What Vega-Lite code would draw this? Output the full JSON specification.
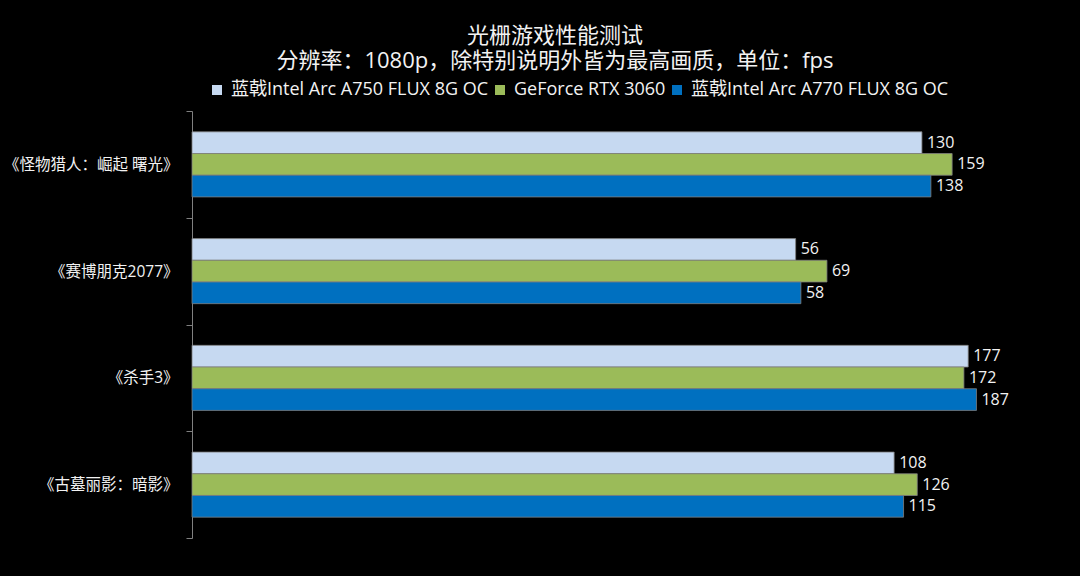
{
  "$schema": "https://vega.github.io/schema/vega-lite/v6.json",
  "background": "#000000",
  "autosize": {"type": "none"},
  "padding": {"left": 192, "top": 111, "right": 60, "bottom": 38},
  "width": 828,
  "height": 427,
  "title": {
    "text": "光栅游戏性能测试",
    "subtitle": "分辨率：1080p，除特别说明外皆为最高画质，单位：fps",
    "anchor": "middle",
    "dx": -51,
    "offset": 8,
    "font": "Open Sans, Noto Sans CJK SC",
    "fontSize": 22,
    "fontWeight": "normal",
    "color": "#f2f2f2",
    "subtitleFont": "Open Sans, Noto Sans CJK SC",
    "subtitleFontSize": 22,
    "subtitleColor": "#f2f2f2",
    "subtitlePadding": 3
  },
  "data": {
    "values": [
      {"game": "《怪物猎人：崛起 曙光》", "card": "蓝戟Intel Arc A750 FLUX 8G OC", "fps": 130},
      {"game": "《怪物猎人：崛起 曙光》", "card": "GeForce RTX 3060", "fps": 159},
      {"game": "《怪物猎人：崛起 曙光》", "card": "蓝戟Intel Arc A770 FLUX 8G OC", "fps": 138},
      {"game": "《赛博朋克2077》", "card": "蓝戟Intel Arc A750 FLUX 8G OC", "fps": 56},
      {"game": "《赛博朋克2077》", "card": "GeForce RTX 3060", "fps": 69},
      {"game": "《赛博朋克2077》", "card": "蓝戟Intel Arc A770 FLUX 8G OC", "fps": 58},
      {"game": "《杀手3》", "card": "蓝戟Intel Arc A750 FLUX 8G OC", "fps": 177},
      {"game": "《杀手3》", "card": "GeForce RTX 3060", "fps": 172},
      {"game": "《杀手3》", "card": "蓝戟Intel Arc A770 FLUX 8G OC", "fps": 187},
      {"game": "《古墓丽影：暗影》", "card": "蓝戟Intel Arc A750 FLUX 8G OC", "fps": 108},
      {"game": "《古墓丽影：暗影》", "card": "GeForce RTX 3060", "fps": 126},
      {"game": "《古墓丽影：暗影》", "card": "蓝戟Intel Arc A770 FLUX 8G OC", "fps": 115}
    ]
  },
  "encoding": {
    "y": {
      "field": "game",
      "type": "nominal",
      "sort": null,
      "scale": {"paddingInner": 0, "paddingOuter": 0},
      "axis": {
        "title": null,
        "tickBand": "extent",
        "domainColor": "#808080",
        "tickColor": "#808080",
        "tickSize": 6,
        "labelPadding": 8,
        "labelFont": "Open Sans, Noto Sans CJK SC",
        "labelFontSize": 15.5,
        "labelColor": "#f2f2f2",
        "labelLimit": 300
      }
    },
    "yOffset": {
      "field": "card",
      "type": "nominal",
      "sort": ["蓝戟Intel Arc A750 FLUX 8G OC", "GeForce RTX 3060", "蓝戟Intel Arc A770 FLUX 8G OC"],
      "scale": {"paddingInner": 0, "paddingOuter": 0.96}
    },
    "x": {
      "field": "fps",
      "type": "quantitative",
      "scale": {"type": "log", "domain": [1, 250]},
      "axis": null
    }
  },
  "layer": [
    {
      "mark": {"type": "bar", "stroke": "#7f7f7f", "strokeWidth": 0.8},
      "encoding": {
        "x2": {"datum": 1},
        "color": {
          "field": "card",
          "type": "nominal",
          "sort": ["蓝戟Intel Arc A750 FLUX 8G OC", "GeForce RTX 3060", "蓝戟Intel Arc A770 FLUX 8G OC"],
          "scale": {
            "domain": ["蓝戟Intel Arc A750 FLUX 8G OC", "GeForce RTX 3060", "蓝戟Intel Arc A770 FLUX 8G OC"],
            "range": ["#c6d9f1", "#9bbb59", "#0070c0"]
          },
          "legend": {
            "title": null,
            "orient": "none",
            "legendX": 16,
            "legendY": -30,
            "direction": "horizontal",
            "symbolType": "square",
            "symbolSize": 100,
            "symbolStrokeWidth": 0,
            "labelFont": "Open Sans, Noto Sans CJK SC",
            "labelFontSize": 18,
            "labelColor": "#f2f2f2",
            "labelOffset": 5,
            "labelLimit": 400,
            "columnPadding": 2
          }
        }
      }
    },
    {
      "mark": {
        "type": "text",
        "align": "left",
        "baseline": "middle",
        "dx": 5,
        "font": "Open Sans, Noto Sans CJK SC",
        "fontSize": 16,
        "color": "#f2f2f2"
      },
      "encoding": {
        "text": {"field": "fps", "type": "quantitative"}
      }
    }
  ],
  "config": {"view": {"stroke": null}}
}
